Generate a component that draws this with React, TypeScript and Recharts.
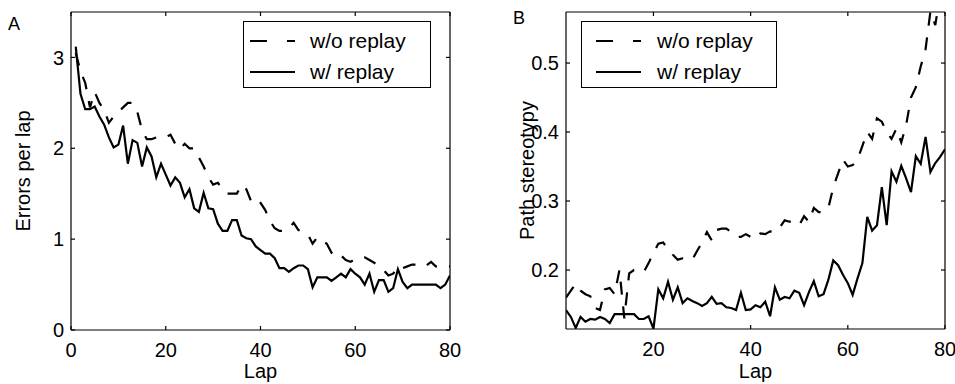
import React from "react";
import { Legend, Line, LineChart, XAxis, YAxis } from "recharts";

// Panel A: errors per lap, laps 1..80
const lapsA = Array.from({ length: 80 }, (_, i) => i + 1);
const errorsNoReplay = [
  3.05, 2.85, 2.72, 2.45, 2.62, 2.5, 2.42, 2.28, 2.35, 2.4,
  2.45, 2.5, 2.5, 2.4, 2.2, 2.1, 2.1, 2.12, 2.12, 2.12,
  2.15, 2.05, 1.99, 2.05, 2.0, 2.0, 1.9, 1.8, 1.68, 1.6,
  1.62, 1.55, 1.5, 1.5, 1.5, 1.6, 1.55, 1.42, 1.45, 1.4,
  1.32, 1.2, 1.12, 1.09, 1.09, 1.12, 1.18, 1.1, 1.08, 1.05,
  0.95, 1.02, 0.98, 0.95, 0.85, 0.8, 0.82, 0.77, 0.75, 0.78,
  0.8, 0.8, 0.77, 0.74, 0.7, 0.66, 0.6, 0.62, 0.7, 0.68,
  0.7, 0.72, 0.72, 0.7, 0.71, 0.75, 0.7, 0.7, 0.7, 0.7,
];
const errorsReplay = [
  3.12, 2.6, 2.43, 2.43, 2.46, 2.35, 2.26, 2.12, 2.01, 2.04,
  2.25, 1.83, 2.09, 2.06, 1.8, 2.01, 1.91, 1.68, 1.83, 1.71,
  1.59, 1.68, 1.62, 1.46, 1.55, 1.34, 1.3, 1.51, 1.34, 1.33,
  1.17, 1.09, 1.09, 1.21, 1.21, 1.04, 1.01, 1.0, 0.92, 0.88,
  0.84, 0.84, 0.79, 0.68, 0.68, 0.64, 0.68, 0.71, 0.71, 0.67,
  0.47, 0.58, 0.58, 0.58, 0.54, 0.58, 0.62, 0.58, 0.67, 0.62,
  0.58, 0.5, 0.62, 0.42, 0.55, 0.55, 0.42, 0.46, 0.67, 0.53,
  0.46, 0.5, 0.5, 0.5, 0.5, 0.5, 0.5, 0.46, 0.5, 0.6,
];
const ticksAx = [0, 20, 40, 60, 80];
const ticksAy = [0, 1, 2, 3];

// Panel B: path stereotypy, laps 2..80
const lapsB = Array.from({ length: 79 }, (_, i) => i + 2);
const stereoNoReplay = [
  0.16, 0.17, 0.18, 0.17, 0.165, 0.162, 0.145, 0.142, 0.172,
  0.174, 0.165, 0.2, 0.13, 0.195, 0.2, 0.198, 0.197, 0.21, 0.225,
  0.238, 0.24, 0.23, 0.222, 0.215, 0.217, 0.216, 0.215, 0.228, 0.24,
  0.255, 0.243, 0.258, 0.26, 0.26, 0.255, 0.248, 0.248, 0.252, 0.248,
  0.245, 0.253, 0.252, 0.256, 0.255, 0.262, 0.272, 0.27, 0.27, 0.265,
  0.278, 0.27, 0.29, 0.284, 0.284, 0.29, 0.32, 0.34, 0.36, 0.35,
  0.352, 0.36, 0.38, 0.4, 0.39, 0.42, 0.415, 0.4, 0.39, 0.405,
  0.385, 0.41, 0.45, 0.465, 0.495, 0.52, 0.575, 0.555, 0.6, 0.64,
];
const stereoReplay = [
  0.142, 0.132, 0.116, 0.132, 0.125, 0.129, 0.128, 0.132, 0.129,
  0.123, 0.136, 0.136, 0.136, 0.136, 0.136, 0.129, 0.129, 0.133, 0.115,
  0.172, 0.159, 0.183, 0.157, 0.175, 0.152, 0.159, 0.155, 0.152, 0.148,
  0.152, 0.161, 0.151, 0.152, 0.146, 0.145, 0.142, 0.167, 0.142, 0.143,
  0.149, 0.146, 0.154, 0.133, 0.175, 0.157, 0.161, 0.159, 0.17, 0.167,
  0.149, 0.168, 0.184, 0.162, 0.165, 0.186, 0.214, 0.207, 0.193, 0.181,
  0.164, 0.188, 0.21, 0.277, 0.257, 0.265, 0.32, 0.265, 0.343, 0.328,
  0.351, 0.333, 0.313, 0.365, 0.354, 0.393, 0.342, 0.355, 0.364, 0.375,
];
const ticksBx = [20, 40, 60, 80];
const ticksBy = [0.2, 0.3, 0.4, 0.5];

const seriesOrder = ["noReplay", "replay"];
const seriesNames = { noReplay: "w/o replay", replay: "w/ replay" };

const dataA = lapsA.map((lap, i) => ({ lap, noReplay: errorsNoReplay[i], replay: errorsReplay[i] }));
const dataB = lapsB.map((lap, i) => ({ lap, noReplay: stereoNoReplay[i], replay: stereoReplay[i] }));

const FONT = "'Liberation Sans', Arial, Helvetica, sans-serif";
const tickStyle = { fontSize: 20, fill: "#000", fontFamily: FONT };
const axisStroke = { stroke: "#000", strokeWidth: 1.2 };
const blank = () => "";

function makeLegend(width: number, padLeft: number, textGap: number) {
  return (props: any) => {
    const items = [...(props.payload || [])].sort(
      (a: any, b: any) => seriesOrder.indexOf(a.dataKey) - seriesOrder.indexOf(b.dataKey)
    );
    return (
      <div
        style={{
          width,
          height: 67,
          boxSizing: "border-box",
          border: "1.3px solid #000",
          background: "#fff",
          paddingTop: 3,
          fontFamily: FONT,
          fontSize: 21,
          color: "#000",
        }}
      >
        {items.map((entry: any) => (
          <div key={entry.dataKey} style={{ display: "flex", alignItems: "center", height: 31 }}>
            <svg width={45} height={6} style={{ marginLeft: padLeft, marginRight: textGap }}>
              <line
                x1={0}
                x2={45}
                y1={3}
                y2={3}
                stroke="#000"
                strokeWidth={2.2}
                strokeDasharray={entry.dataKey === "noReplay" ? "17 20" : undefined}
              />
            </svg>
            <span>{entry.value}</span>
          </div>
        ))}
      </div>
    );
  };
}

function Panel({
  data,
  width,
  yWidth,
  xHeight,
  marginRight,
  xDomain,
  yDomain,
  xTicks,
  yTicks,
  yLabel,
  yLabelDx,
  legendLeft,
  legendWidth,
  legendPad,
  legendGap,
}: any) {
  return (
    <LineChart width={width} height={384} data={data} margin={{ top: 12, right: marginRight, bottom: 0, left: 0 }}>
      <XAxis
        xAxisId="x"
        dataKey="lap"
        type="number"
        domain={xDomain}
        ticks={xTicks}
        allowDataOverflow
        height={xHeight}
        tickSize={-4}
        tickMargin={17}
        tickLine={axisStroke}
        axisLine={axisStroke}
        tick={tickStyle}
        label={{ value: "Lap", position: "insideBottom", offset: 6, style: { fontSize: 20, fill: "#000", fontFamily: FONT } }}
      />
      <XAxis
        xAxisId="top"
        dataKey="lap"
        type="number"
        orientation="top"
        mirror
        domain={xDomain}
        ticks={xTicks}
        allowDataOverflow
        tickSize={4}
        tickLine={axisStroke}
        axisLine={axisStroke}
        tickFormatter={blank}
      />
      <YAxis
        yAxisId="y"
        type="number"
        domain={yDomain}
        ticks={yTicks}
        allowDataOverflow
        width={yWidth}
        tickSize={-4}
        tickMargin={11}
        tickLine={axisStroke}
        axisLine={axisStroke}
        tick={tickStyle}
        label={{
          value: yLabel,
          angle: -90,
          position: "center",
          dx: yLabelDx,
          style: { fontSize: 20, fill: "#000", fontFamily: FONT, textAnchor: "middle" },
        }}
      />
      <YAxis
        yAxisId="right"
        type="number"
        orientation="right"
        mirror
        domain={yDomain}
        ticks={yTicks}
        allowDataOverflow
        tickSize={4}
        tickLine={axisStroke}
        axisLine={axisStroke}
        tickFormatter={blank}
      />
      <Legend
        layout="vertical"
        align="center"
        verticalAlign="middle"
        wrapperStyle={{ top: 21, left: legendLeft, width: legendWidth }}
        content={makeLegend(legendWidth, legendPad, legendGap)}
      />
      <Line
        xAxisId="x"
        yAxisId="y"
        dataKey="noReplay"
        name={seriesNames.noReplay}
        stroke="#000"
        strokeWidth={2.2}
        strokeDasharray="13 12"
        dot={false}
        isAnimationActive={false}
      />
      <Line
        xAxisId="x"
        yAxisId="y"
        dataKey="replay"
        name={seriesNames.replay}
        stroke="#000"
        strokeWidth={2.2}
        dot={false}
        isAnimationActive={false}
      />
    </LineChart>
  );
}

export default function App() {
  const letter = { position: "absolute" as const, fontFamily: FONT, fontSize: 18, color: "#000" };
  return (
    <div style={{ position: "absolute", left: 0, top: 0, width: 955, height: 384, background: "#fff" }}>
      <div style={{ position: "absolute", left: 0, top: 0 }}>
        <Panel
          data={dataA}
          width={470}
          yWidth={71}
          xHeight={54}
          marginRight={20}
          xDomain={[0, 80]}
          yDomain={[0, 3.5]}
          xTicks={ticksAx}
          yTicks={ticksAy}
          yLabel="Errors per lap"
          yLabelDx={-13}
          legendLeft={243}
          legendWidth={188}
          legendPad={6}
          legendGap={15}
        />
      </div>
      <div style={{ position: "absolute", left: 490, top: 0 }}>
        <Panel
          data={dataB}
          width={465}
          yWidth={76}
          xHeight={55}
          marginRight={10}
          xDomain={[2, 80]}
          yDomain={[0.1145, 0.574]}
          xTicks={ticksBx}
          yTicks={ticksBy}
          yLabel="Path stereotypy"
          yLabelDx={-1}
          legendLeft={91}
          legendWidth={196}
          legendPad={14}
          legendGap={16}
        />
      </div>
      <div style={{ ...letter, left: 8, top: 14 }}>A</div>
      <div style={{ ...letter, left: 513, top: 8 }}>B</div>
    </div>
  );
}
